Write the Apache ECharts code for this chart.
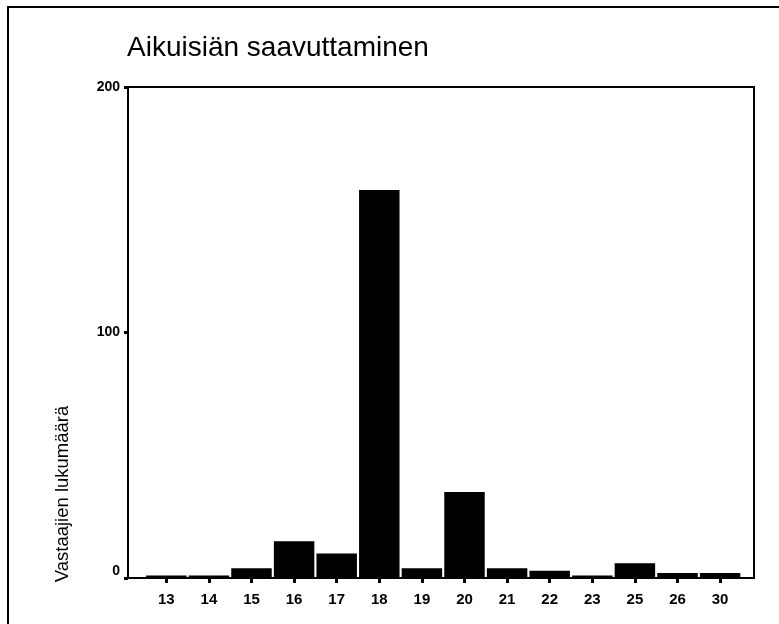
<!DOCTYPE html>
<html>
<head>
<meta charset="utf-8">
<script src="https://cdn.jsdelivr.net/npm/echarts@6/dist/echarts.min.js"></script>
<style>
html,body{margin:0;padding:0;background:#fff;}
#main{width:779px;height:624px;}
</style>
</head>
<body>
<div id="main"></div>
<script>
var categories = ['13','14','15','16','17','18','19','20','21','22','23','25','26','30'];
var counts = [1, 1, 4, 15, 10, 158, 4, 35, 4, 3, 1, 6, 2, 2];
var yTicks = [0, 100, 200];
var titleText = 'Aikuisiän saavuttaminen';
var yAxisTitle = 'Vastaajien lukumäärä';

var FONT = 'Liberation Sans, Arial, sans-serif';
var chart = echarts.init(document.getElementById('main'), null, {renderer: 'canvas'});
var option = {
  backgroundColor: '#ffffff',
  animation: false,
  title: {
    text: titleText,
    left: 127,
    top: 34,
    padding: 0,
    textStyle: {fontFamily: FONT, fontSize: 28, fontWeight: 'normal', color: '#000'}
  },
  grid: [
    {left: 128, top: 87, right: 25, bottom: 46, show: true, borderColor: '#000', borderWidth: 2, backgroundColor: 'transparent'},
    {left: 145, top: 87, right: 37.6, bottom: 46}
  ],
  xAxis: [
    {gridIndex: 0, type: 'category', data: [''], show: false},
    {
      gridIndex: 1, type: 'category', data: categories,
      axisLine: {show: false},
      axisTick: {show: true, alignWithLabel: true, length: 5, lineStyle: {color: '#000', width: 3}},
      axisLabel: {color: '#000', fontFamily: FONT, fontSize: 15, fontWeight: 'bold', margin: 14}
    }
  ],
  yAxis: [
    {
      gridIndex: 0, type: 'value', min: yTicks[0], max: yTicks[yTicks.length - 1], interval: 100,
      splitLine: {show: false},
      axisLine: {show: true, lineStyle: {color: '#000', width: 2}},
      axisTick: {show: true, length: 4, lineStyle: {color: '#000', width: 3}},
      axisLabel: {color: '#000', fontFamily: FONT, fontSize: 14, fontWeight: 'bold', margin: 8, verticalAlignMinLabel: 'bottom'}
    },
    {gridIndex: 1, type: 'value', min: yTicks[0], max: yTicks[yTicks.length - 1], show: false, splitLine: {show: false}}
  ],
  series: [{
    type: 'bar',
    xAxisIndex: 1,
    yAxisIndex: 1,
    data: counts,
    barCategoryGap: '5%',
    itemStyle: {color: '#000'}
  }],
  graphic: [
    {type: 'polyline', shape: {points: [[8, 624], [8, 7], [779, 7]]}, style: {stroke: '#000', lineWidth: 2, fill: null}},
    {type: 'text', x: 63, y: 494, rotation: Math.PI / 2,
      style: {text: yAxisTitle, fontFamily: FONT, fontSize: 18.5, fill: '#000', textAlign: 'center', textVerticalAlign: 'middle'}}
  ]
};
chart.setOption(option);
</script>
</body>
</html>
